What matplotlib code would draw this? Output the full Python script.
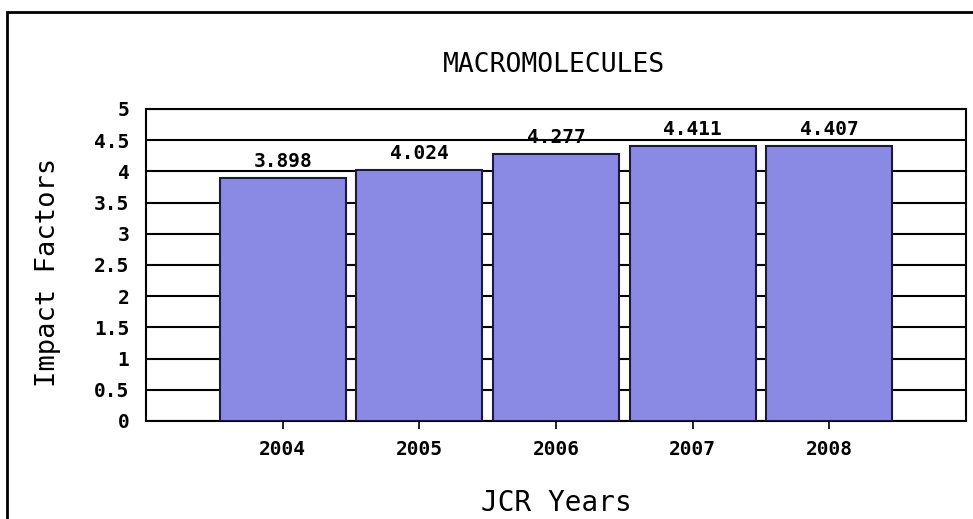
import matplotlib
matplotlib.use("Agg")
import matplotlib.pyplot as plt
from matplotlib.patches import Rectangle
from matplotlib.font_manager import FontProperties

# Chart data
years = ["2004", "2005", "2006", "2007", "2008"]
impact = [3.898, 4.024, 4.277, 4.411, 4.407]
yticks = [0, 0.5, 1, 1.5, 2, 2.5, 3, 3.5, 4, 4.5, 5]
ytick_labels = ["0", "0.5", "1", "1.5", "2", "2.5", "3", "3.5", "4", "4.5", "5"]

W, H = 973, 519
fig = plt.figure(figsize=(W / 100, H / 100), dpi=100)
fig.patch.set_facecolor("white")

# outer frame (runs off the right / bottom edges of the image)
fig.patches.append(Rectangle((7 / W, -0.05), 1.2, (H - 12) / H + 0.05,
                             transform=fig.transFigure, fill=False,
                             edgecolor="black", linewidth=2, zorder=0))

ax = fig.add_axes([146 / W, 98 / H, 820 / W, 312 / H])
x = list(range(len(years)))
ax.bar(x, impact, width=0.92, color="#8a8ae4", edgecolor="#1a1a40",
       linewidth=1.5, zorder=3)

ax.set_xlim(-1, len(years))
ax.set_ylim(0, 5)
ax.set_yticks(yticks)
ax.set_yticklabels(ytick_labels)
ax.set_xticks(x)
ax.set_xticklabels(years)
ax.yaxis.grid(True, color="black", linewidth=1.5, zorder=0)
ax.set_axisbelow(True)
for s in ax.spines.values():
    s.set_linewidth(1.5)

mono_b = dict(family="DejaVu Sans Mono", weight="bold", size=14)
ax.tick_params(axis="x", length=6, width=1.2, pad=8, colors="black")
ax.tick_params(axis="y", length=0, pad=12)
for lab in ax.get_xticklabels() + ax.get_yticklabels():
    lab.set_fontproperties(FontProperties(**mono_b))

for xi, v in zip(x, impact):
    ax.annotate(f"{v:.3f}", (xi, v), xytext=(0, 5), textcoords="offset points",
                ha="center", va="bottom", **mono_b)

fig.text(554 / W, 1 - 65 / H, "MACROMOLECULES", ha="center", va="center",
         family="DejaVu Sans Mono", size=19)
fig.text(48 / W, 1 - 272 / H, "Impact Factors", ha="center", va="center",
         rotation=90, family="DejaVu Sans Mono", size=19.5)
fig.text(556 / W, 1 - 503 / H, "JCR Years", ha="center", va="center",
         family="DejaVu Sans Mono", size=20)

fig.savefig("out.png", dpi=100)
